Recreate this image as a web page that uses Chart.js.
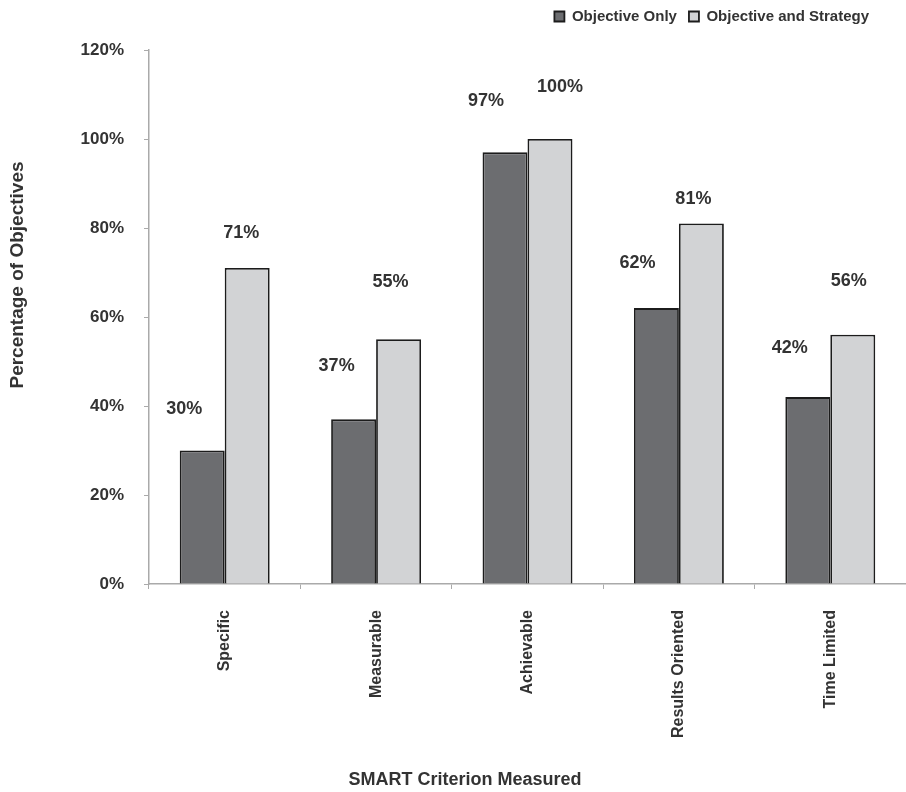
<!DOCTYPE html>
<html>
<head>
<meta charset="utf-8">
<script src="https://cdn.jsdelivr.net/npm/chart.js@4.4.1/dist/chart.umd.min.js"></script>
<style>
  html, body { margin: 0; padding: 0; background: #fff; }
  #wrap { width: 906px; height: 792px; position: relative; }
</style>
</head>
<body>
<div id="wrap"><canvas id="smartChart"></canvas></div>
<script>
// SMART criteria chart data
const categories = ['Specific', 'Measurable', 'Achievable', 'Results Oriented', 'Time Limited'];
const objectiveOnly = [30, 37, 97, 62, 42];
const objectiveAndStrategy = [71, 55, 100, 81, 56];
const yTicks = [0, 20, 40, 60, 80, 100, 120];

// value label nudges (px) relative to bar top centre, as in the original
const labelNudge = [
  { dx: [-18, -17, -19, -19, -18], dy: [-41, -53, -51, -45, -49] },
  { dx: [-6, -8, 10, -8, -4], dy: [-35, -57, -52, -25, -54] }
];

const FONT = '"Liberation Sans", Arial, sans-serif';
const TEXT = '#333333';

const valueLabels = {
  id: 'valueLabels',
  afterDatasetsDraw(chart) {
    const ctx = chart.ctx;
    ctx.save();
    ctx.font = 'bold 18px ' + FONT;
    ctx.fillStyle = TEXT;
    ctx.textAlign = 'center';
    ctx.textBaseline = 'middle';
    chart.data.datasets.forEach((ds, di) => {
      chart.getDatasetMeta(di).data.forEach((bar, i) => {
        const n = labelNudge[di];
        ctx.fillText(ds.data[i] + '%', bar.x + n.dx[i], bar.y + n.dy[i]);
      });
    });
    ctx.restore();
  }
};

// axis titles, placed where the original has them (not centred on the plot)
const axisTitles = {
  id: 'axisTitles',
  afterDraw(chart) {
    const ctx = chart.ctx;
    ctx.save();
    ctx.fillStyle = TEXT;
    ctx.textAlign = 'center';
    ctx.textBaseline = 'middle';
    ctx.font = 'bold 18px ' + FONT;
    ctx.fillText('SMART Criterion Measured', 465, 780);
    ctx.translate(18, 275);
    ctx.rotate(-Math.PI / 2);
    ctx.font = 'bold 19px ' + FONT;
    ctx.fillText('Percentage of Objectives', 0, 0);
    ctx.restore();
  }
};

// legend sits a little in from the right edge and hugs the top
const legendPlace = {
  id: 'legendPlace',
  afterLayout(chart) {
    const lg = chart.legend;
    lg.left -= 25;
    lg.right -= 25;
    lg.top = -3;
  }
};

new Chart(document.getElementById('smartChart'), {
  type: 'bar',
  data: {
    labels: categories,
    datasets: [
      { label: 'Objective Only', data: objectiveOnly, backgroundColor: '#6c6d70', borderColor: '#1c1c1c', borderWidth: 1.8 },
      { label: 'Objective and Strategy', data: objectiveAndStrategy, backgroundColor: '#d2d3d5', borderColor: '#1c1c1c', borderWidth: 1.8 }
    ]
  },
  options: {
    responsive: true,
    maintainAspectRatio: false,
    animation: false,
    categoryPercentage: 0.594,
    barPercentage: 1,
    layout: { padding: { top: 13, right: 0, bottom: 0, left: 0 } },
    plugins: {
      legend: {
        position: 'top',
        align: 'end',
        labels: {
          boxWidth: 10,
          boxHeight: 10,
          padding: 12,
          color: TEXT,
          font: { family: FONT, size: 15, weight: 'bold' }
        }
      },
      tooltip: { enabled: false }
    },
    scales: {
      x: {
        grid: { drawOnChartArea: false, color: '#aaaaaa', tickLength: 5 },
        border: { color: '#aaaaaa', width: 1.5 },
        ticks: {
          color: TEXT,
          minRotation: 90,
          maxRotation: 90,
          padding: 21,
          font: { family: FONT, size: 16, weight: 'bold' }
        },
        afterFit: s => { s.height = 208; }
      },
      y: {
        min: 0,
        max: 120,
        afterBuildTicks: s => { s.ticks = yTicks.map(v => ({ value: v })); },
        grid: { drawOnChartArea: false, color: '#aaaaaa', tickLength: 5 },
        border: { color: '#aaaaaa', width: 1.5 },
        ticks: {
          color: TEXT,
          padding: 20,
          callback: v => v + '%',
          font: { family: FONT, size: 17, weight: 'bold' }
        },
        afterFit: s => { s.width = 149; }
      }
    }
  },
  plugins: [valueLabels, axisTitles, legendPlace]
});
</script>
</body>
</html>
